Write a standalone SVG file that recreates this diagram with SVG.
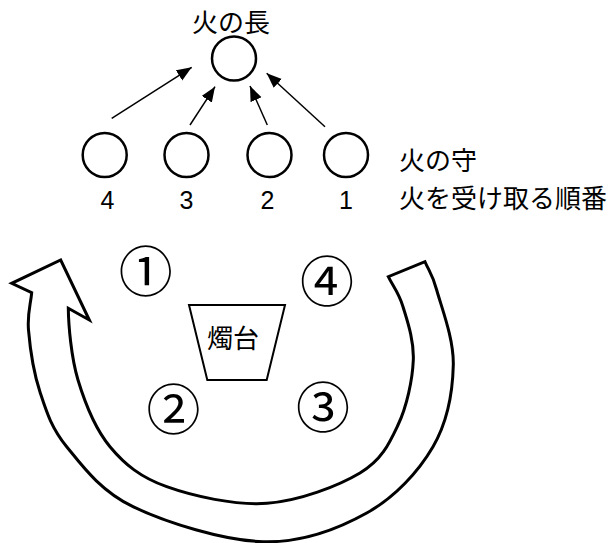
<svg xmlns="http://www.w3.org/2000/svg" width="615" height="543" viewBox="0 0 615 543">
<defs>
<marker id="ah" markerUnits="userSpaceOnUse" markerWidth="16" markerHeight="13" refX="15" refY="6" orient="auto">
<path d="M0,0 L15,6 L0,12 z" fill="#000"/>
</marker>
</defs>
<style>
.t{font-family:"Noto Sans CJK JP","Noto Sans",sans-serif;font-size:26px;fill:#000}
.d{font-family:"Liberation Sans",Arial,sans-serif;font-size:25px;fill:#000;text-anchor:middle}
.c{fill:#fff;stroke:#000;stroke-width:2.5}
.cn{font-family:"Noto Sans CJK JP",sans-serif;font-size:54px;fill:#000;text-anchor:middle}
.ln{stroke:#000;stroke-width:1.5;fill:none}
</style>
<rect width="615" height="543" fill="#fff"/>
<g id="chief">
<circle class="c" cx="234" cy="58.5" r="22"/>
<text class="t" x="231" y="32" text-anchor="middle">火の長</text>
</g>
<g id="keeper4"><circle class="c" cx="104.7" cy="155" r="22"/><text class="d" x="107.5" y="209">4</text></g>
<g id="keeper3"><circle class="c" cx="186.5" cy="155" r="22"/><text class="d" x="186.5" y="209">3</text></g>
<g id="keeper2"><circle class="c" cx="269.5" cy="155" r="22"/><text class="d" x="267.5" y="209">2</text></g>
<g id="keeper1"><circle class="c" cx="346" cy="155" r="22"/><text class="d" x="346" y="209">1</text></g>
<g id="labels">
<text class="t" x="399" y="170">火の守</text>
<text class="t" x="399" y="208">火を受け取る順番</text>
</g>
<g id="connectors">
<line class="ln" x1="111.7" y1="118.3" x2="191.7" y2="67.3" marker-end="url(#ah)"/>
<line class="ln" x1="190" y1="125" x2="215" y2="86.7" marker-end="url(#ah)"/>
<line class="ln" x1="267.3" y1="125" x2="250" y2="86" marker-end="url(#ah)"/>
<line class="ln" x1="325" y1="126.7" x2="266.7" y2="73.3" marker-end="url(#ah)"/>
</g>
<g id="circular-arrow">
<path fill="#fff" stroke="#000" stroke-width="3" stroke-linejoin="miter" d="M31.7,292.7 C30.6,305.1 27.1,313.5 28.5,330 C29.9,346.6 33.6,372.6 40,392 C46.4,411.5 51.2,427.6 66.7,446.7 C82.2,465.8 100.3,490.9 133,506.7 C165.7,522.5 224.1,540.7 263,541.7 C302,542.8 338.4,528.8 366.7,513 C395,497.2 418.6,471.4 433,446.7 C447.4,422 452.7,391.1 453.3,365 C453.9,338.9 441.4,307.2 436.7,290 C432,272.8 428.9,271.1 425,261.7 L388.3,276.7 C393.2,286.7 398.8,292.8 403,306.7 C407.2,320.6 414.1,340.3 413.3,360 C412.5,379.7 406.9,406.2 398,425 C389.1,443.8 381.8,460 360,473 C338.2,486 299.2,501 267,503.3 C234.8,505.6 192.9,496.1 166.7,486.7 C140.5,477.3 124.8,464.5 110,446.7 C95.2,428.9 85,403.1 78,380 C71.1,356.9 68.5,325 68.3,308.3 L89.3,320 L60.7,260 L11.7,283.3 Z"/>
</g>
<g id="candlestand">
<path d="M189,305 L285,305 L266.7,380 L207.3,380 Z" fill="#fff" stroke="#000" stroke-width="2"/>
<text class="t" x="233" y="348" text-anchor="middle">燭台</text>
</g>
<g id="pos1"><text class="cn" x="145.7" y="292">①</text></g>
<g id="pos2"><text class="cn" x="173.5" y="430">②</text></g>
<g id="pos3"><text class="cn" x="323" y="427.5">③</text></g>
<g id="pos4"><text class="cn" x="327" y="302">④</text></g>
</svg>
